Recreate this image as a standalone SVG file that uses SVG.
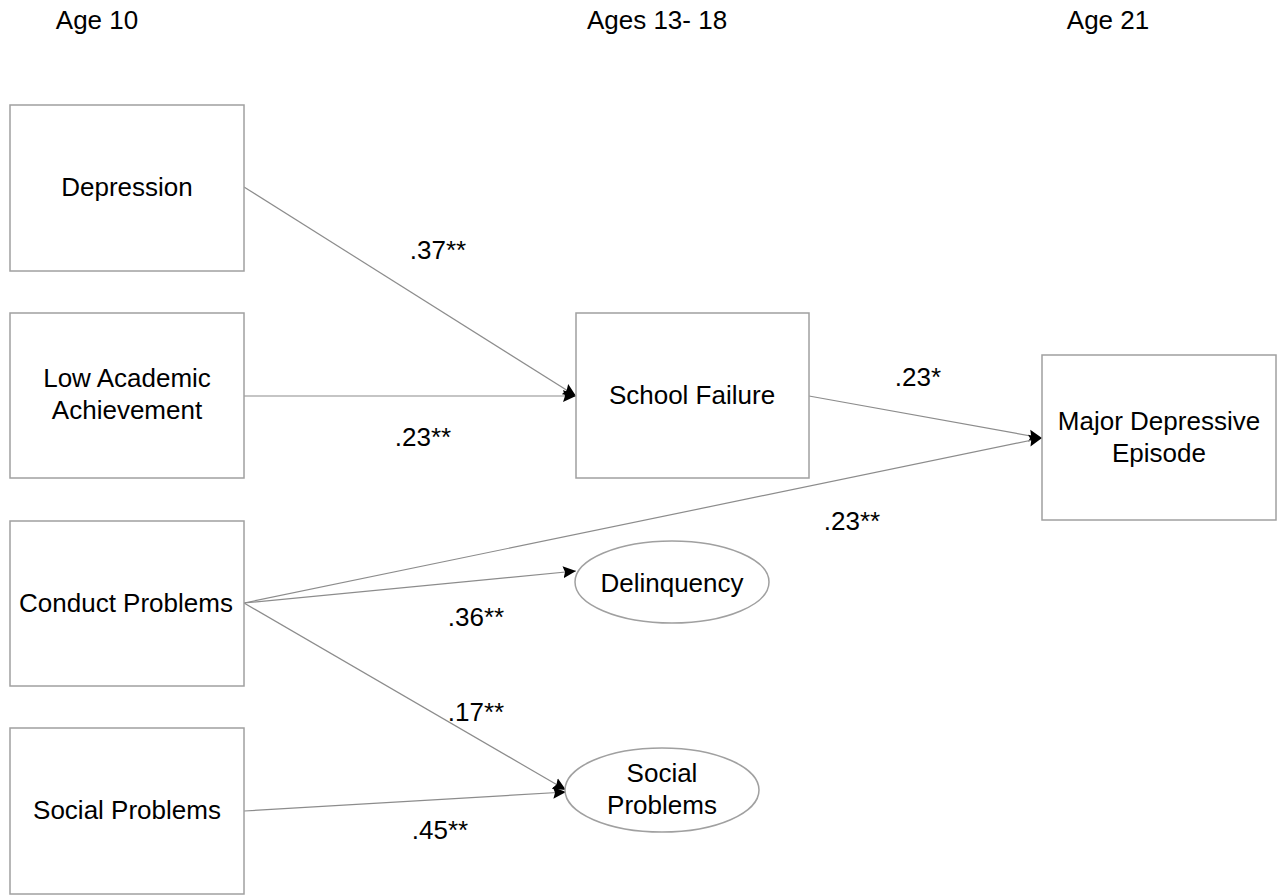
<svg xmlns="http://www.w3.org/2000/svg" width="1283" height="896" viewBox="0 0 1283 896">
<style>
text{font-family:"Liberation Sans",Arial,sans-serif;font-size:26px;fill:#000;text-anchor:middle}
.box{fill:#fff;stroke:#a0a0a0;stroke-width:1.5}
.ln{stroke:#8c8c8c;stroke-width:1.2;fill:none;marker-end:url(#ah)}
</style>
<defs>
<marker id="ah" markerUnits="userSpaceOnUse" markerWidth="14" markerHeight="14" viewBox="0 0 14 14" refX="13" refY="7" orient="auto">
<path d="M0,1 L13,7 L0,13 L2,7 Z" fill="#000"/>
</marker>
</defs>
<rect width="1283" height="896" fill="#fff"/>
<g id="headings">
<text x="97" y="29">Age 10</text>
<text x="657" y="29">Ages 13- 18</text>
<text x="1108" y="29">Age 21</text>
</g>
<g id="connectors">
<line class="ln" x1="244" y1="187" x2="576" y2="396"/>
<line class="ln" x1="244" y1="396" x2="576" y2="396"/>
<line class="ln" x1="809" y1="396" x2="1042" y2="438"/>
<line class="ln" x1="244" y1="603" x2="1042" y2="438"/>
<line class="ln" x1="244" y1="603" x2="576" y2="571"/>
<line class="ln" x1="244" y1="603" x2="566" y2="790"/>
<line class="ln" x1="244" y1="811" x2="566" y2="792"/>
</g>
<g id="labels">
<text x="438" y="259">.37**</text>
<text x="423" y="446">.23**</text>
<text x="918" y="386">.23*</text>
<text x="852" y="530">.23**</text>
<text x="476" y="626">.36**</text>
<text x="476" y="721">.17**</text>
<text x="440" y="839">.45**</text>
</g>
<g id="depression">
<rect class="box" x="10" y="105" width="234" height="166"/>
<text x="127" y="196">Depression</text>
</g>
<g id="low-academic">
<rect class="box" x="10" y="313" width="234" height="165"/>
<text x="127" y="387">Low Academic</text>
<text x="127" y="419">Achievement</text>
</g>
<g id="conduct">
<rect class="box" x="10" y="521" width="234" height="165"/>
<text x="126" y="612">Conduct Problems</text>
</g>
<g id="social-problems-10">
<rect class="box" x="10" y="728" width="234" height="166"/>
<text x="127" y="819">Social Problems</text>
</g>
<g id="school-failure">
<rect class="box" x="576" y="313" width="233" height="165"/>
<text x="692" y="404">School Failure</text>
</g>
<g id="mde">
<rect class="box" x="1042" y="355" width="234" height="165"/>
<text x="1159" y="430">Major Depressive</text>
<text x="1159" y="462">Episode</text>
</g>
<g id="delinquency">
<ellipse class="box" cx="672" cy="582" rx="97" ry="41"/>
<text x="672" y="592">Delinquency</text>
</g>
<g id="social-problems-ellipse">
<ellipse class="box" cx="662" cy="790" rx="97" ry="42"/>
<text x="662" y="782">Social</text>
<text x="662" y="814">Problems</text>
</g>
</svg>
